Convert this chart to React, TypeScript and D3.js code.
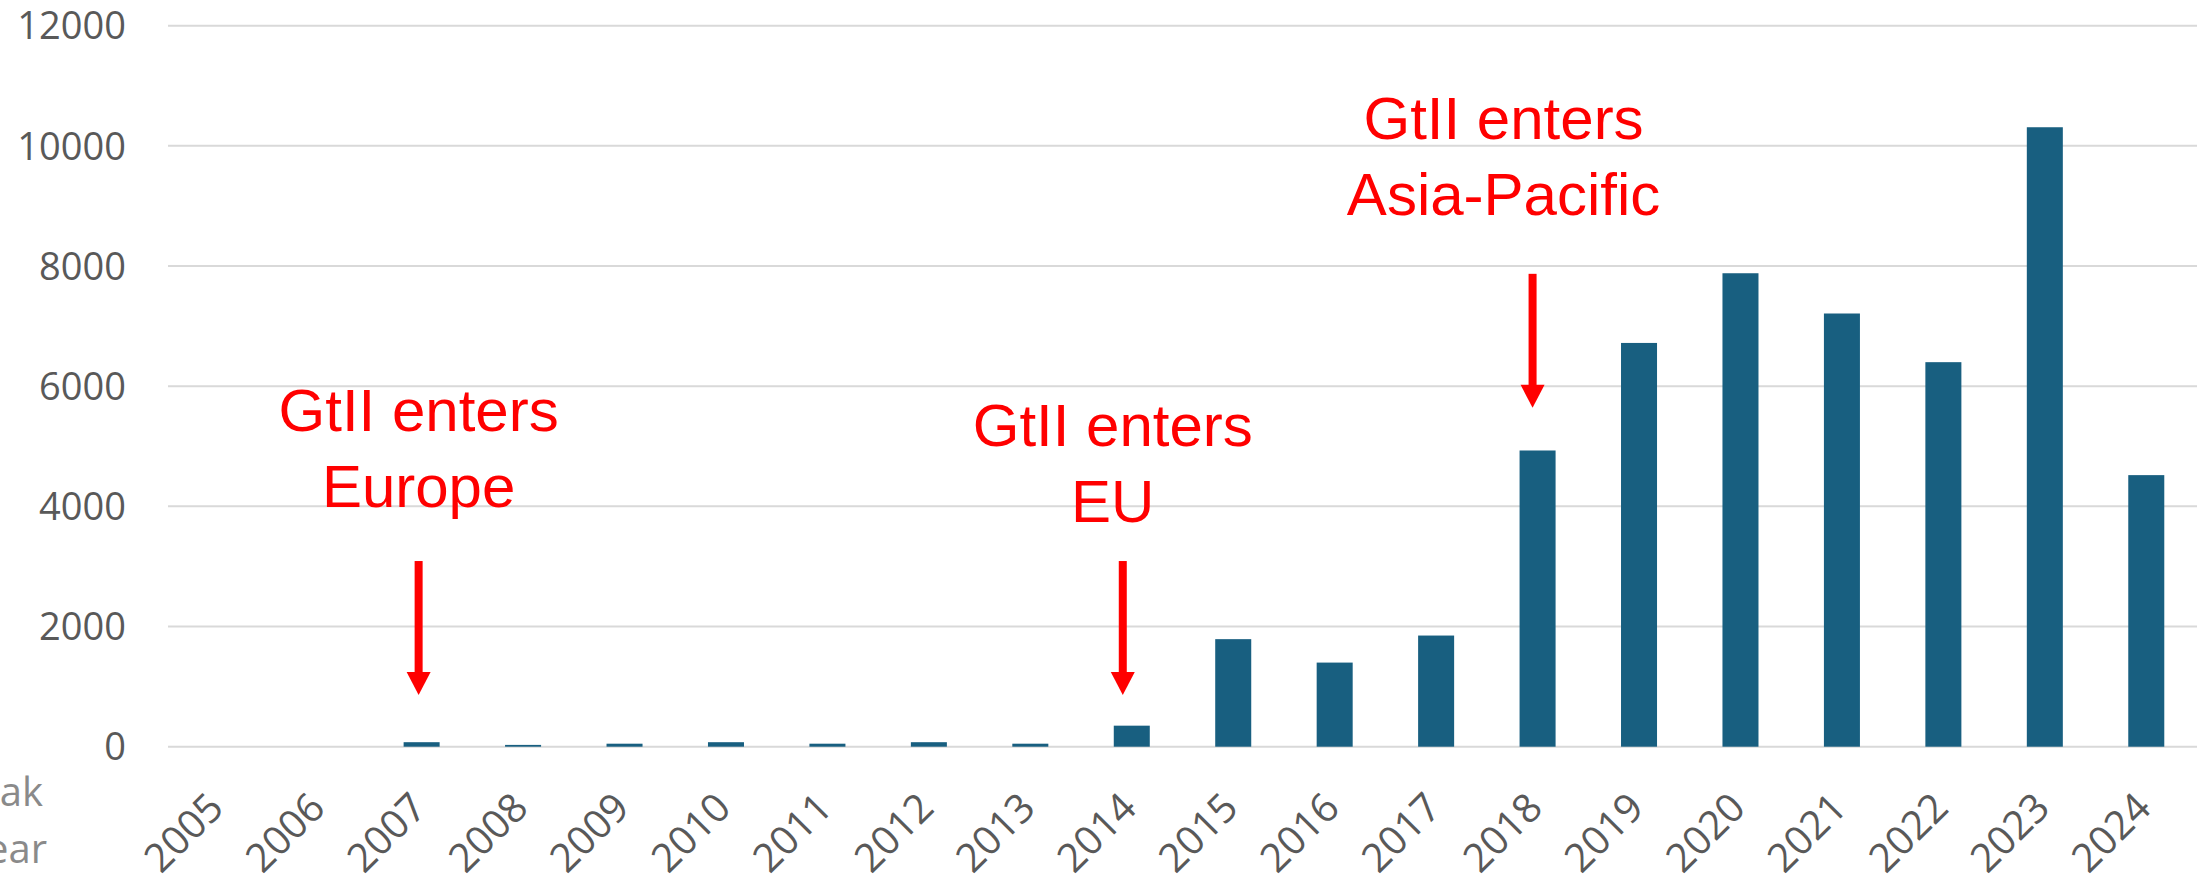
import React from 'react';
import * as d3 from 'd3';

const years = ['2005','2006','2007','2008','2009','2010','2011','2012','2013','2014','2015','2016','2017','2018','2019','2020','2021','2022','2023','2024'];
const values = [0, 0, 75, 30, 50, 75, 50, 75, 50, 350, 1790, 1400, 1850, 4930, 6720, 7880, 7210, 6400, 10310, 4520];
const yTicks = [0, 2000, 4000, 6000, 8000, 10000, 12000];

const annotationYears = ['2007', '2014', '2018'];
const annotationLines = [
  ['GtII enters', 'Europe'],
  ['GtII enters', 'EU'],
  ['GtII enters', 'Asia-Pacific'],
];
// arrow tip value (data units) for each annotation
const annotationTipValues = [860, 860, 5640];

const axisTitleLines = ['Peak', 'year'];

// layout (pixels), kept separate from data
const annLayout = [
  { textDx: -3, arrowDx: -3, firstBaselineAbove: 130 },
  { textDx: -19, arrowDx: -9, firstBaselineAbove: 115 },
  { textDx: -34, arrowDx: -5, firstBaselineAbove: 135 },
];

const W = 2209;
const H = 884;
const M = { left: 168, right: 12, top: 25.7, bottom: 137.3 };
const FONT = '"Liberation Sans", Arial, sans-serif';
const TICKFONT = '"Open Sans", "Liberation Sans", sans-serif';

export default function App() {
  const x = d3.scaleBand<string>().domain(years).range([M.left, W - M.right]).paddingInner(0.645).paddingOuter(0.3225);
  const y = d3.scaleLinear().domain([0, 12000]).range([H - M.bottom, M.top]);
  const bw = x.bandwidth();
  const arrowLen = 134;
  const headLen = 23;
  const headW = 24;
  const shaftW = 8;

  return (
    <svg width={W} height={H} style={{ position: 'absolute', left: 0, top: 0, background: '#fff' }}>
      {yTicks.map((t) => (
        <g key={t}>
          <line x1={M.left} x2={W - M.right} y1={y(t)} y2={y(t)} stroke="#d9d9d9" strokeWidth={2} />
          <text x={126} y={y(t)} dy="0.36em" textAnchor="end" fontFamily={TICKFONT} fontSize={38} fill="#595959">{t}</text>
        </g>
      ))}
      {years.map((yr, i) => (
        <rect key={yr} x={x(yr)!} y={y(values[i])} width={bw} height={y(0) - y(values[i])} fill="#185f80" />
      ))}
      {years.map((yr) => {
        const px = x(yr)! + bw / 2 + 7;
        const py = 810;
        return (
          <text key={yr} x={px} y={py} textAnchor="end" transform={`rotate(-45 ${px} ${py})`} fontFamily={TICKFONT} fontSize={40} fill="#595959">{yr}</text>
        );
      })}
      {annotationYears.map((yr, i) => {
        const cx = x(yr)! + bw / 2;
        const ax = cx + annLayout[i].arrowDx;
        const tip = y(annotationTipValues[i]);
        const top = tip - arrowLen;
        const tx = cx + annLayout[i].textDx;
        const b1 = top - annLayout[i].firstBaselineAbove;
        return (
          <g key={yr}>
            {annotationLines[i].map((ln, j) => (
              <text key={j} x={tx} y={b1 + j * 76} textAnchor="middle" fontFamily={FONT} fontSize={60} fill="#ff0000">{ln}</text>
            ))}
            <rect x={ax - shaftW / 2} y={top} width={shaftW} height={arrowLen - headLen + 1} fill="#ff0000" />
            <path d={`M${ax - headW / 2},${tip - headLen} L${ax + headW / 2},${tip - headLen} L${ax},${tip} Z`} fill="#ff0000" />
          </g>
        );
      })}
      {axisTitleLines.map((ln, j) => (
        <text key={j} x={j === 0 ? 43 : 47} y={806 + j * 57} textAnchor="end" fontFamily={TICKFONT} fontSize={40} fill="#8a8a8a">{ln}</text>
      ))}
    </svg>
  );
}
